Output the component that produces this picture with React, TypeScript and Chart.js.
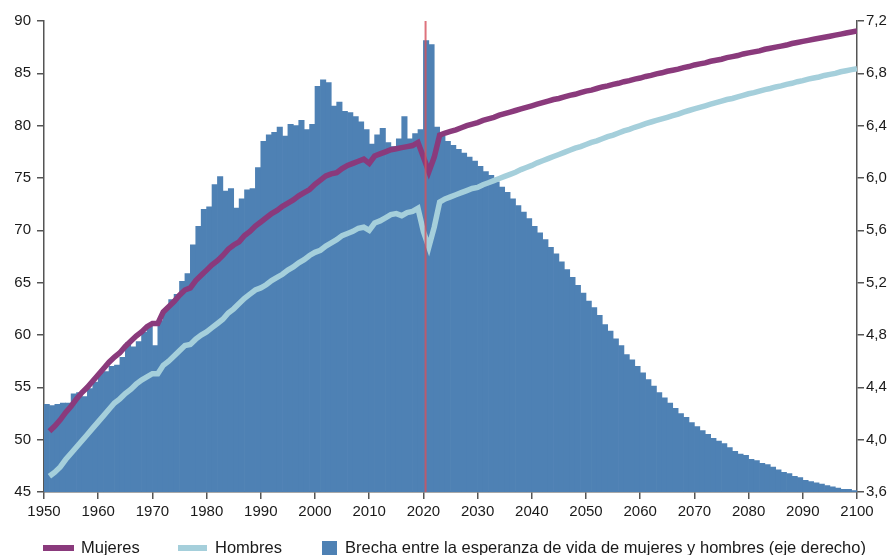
import React, { useEffect, useRef } from 'react';
import { Chart, registerables } from 'chart.js';

Chart.register(...registerables);

// ---------- data ----------
const FIRST_BAR_YEAR = 1950;
const FIRST_LINE_YEAR = 1951;
const X_TICKS = [1950, 1960, 1970, 1980, 1990, 2000, 2010, 2020, 2030, 2040, 2050, 2060, 2070, 2080, 2090, 2100];
const LEFT_TICKS = [45, 50, 55, 60, 65, 70, 75, 80, 85, 90];
const RIGHT_TICKS = [3.6, 4.0, 4.4, 4.8, 5.2, 5.6, 6.0, 6.4, 6.8, 7.2];
const PROJECTION_START = 2020.4;

const LABEL_MUJERES = 'Mujeres';
const LABEL_HOMBRES = 'Hombres';
const LABEL_BRECHA = 'Brecha entre la esperanza de vida de mujeres y hombres (eje derecho)';

// Gap (right axis), one bar per year 1950..2099
const brecha = [
  4.27, 4.26, 4.27, 4.28, 4.28, 4.35, 4.36, 4.33, 4.39, 4.44,
  4.51, 4.52, 4.56, 4.57, 4.63, 4.74, 4.71, 4.75, 4.82, 4.88,
  4.72, 4.91, 4.99, 5.07, 5.11, 5.21, 5.27, 5.49, 5.63, 5.76,
  5.78, 5.95, 6.01, 5.90, 5.92, 5.77, 5.84, 5.91, 5.92, 6.08,
  6.28, 6.33, 6.35, 6.39, 6.32, 6.41, 6.40, 6.44, 6.37, 6.41,
  6.70, 6.75, 6.73, 6.55, 6.58, 6.51, 6.50, 6.47, 6.43, 6.37,
  6.26, 6.33, 6.38, 6.27, 6.24, 6.30, 6.47, 6.30, 6.34, 6.37,
  7.05, 7.02, 6.39, 6.32, 6.28, 6.25, 6.22, 6.19, 6.16, 6.13,
  6.09, 6.05, 6.02, 5.97, 5.93, 5.89, 5.84, 5.79, 5.74, 5.69,
  5.63, 5.58, 5.53, 5.47, 5.42, 5.36, 5.30, 5.24, 5.18, 5.12,
  5.06, 5.01, 4.95, 4.88, 4.83, 4.77, 4.72, 4.65, 4.61, 4.56,
  4.51, 4.46, 4.41, 4.36, 4.32, 4.28, 4.24, 4.20, 4.17, 4.13,
  4.10, 4.07, 4.04, 4.01, 3.99, 3.97, 3.94, 3.91, 3.89, 3.88,
  3.85, 3.84, 3.82, 3.81, 3.79, 3.77, 3.75, 3.74, 3.72, 3.71,
  3.69, 3.68, 3.67, 3.66, 3.65, 3.64, 3.63, 3.62, 3.62, 3.61,
];

// Life expectancy women (left axis), 1951..2100
const mujeres = [
  50.8, 51.3, 51.9, 52.6, 53.2, 53.9, 54.5, 55.0, 55.6, 56.2,
  56.8, 57.4, 57.9, 58.3, 58.9, 59.4, 59.9, 60.3, 60.8, 61.1,
  61.1, 62.2, 62.7, 63.2, 63.8, 64.3, 64.5, 65.2, 65.7, 66.2,
  66.7, 67.1, 67.6, 68.2, 68.6, 68.9, 69.5, 69.9, 70.4, 70.8,
  71.2, 71.6, 71.9, 72.3, 72.6, 72.9, 73.3, 73.6, 73.9, 74.4,
  74.8, 75.2, 75.4, 75.5, 75.9, 76.2, 76.4, 76.6, 76.8, 76.4,
  77.1, 77.3, 77.5, 77.7, 77.8, 77.9, 78.0, 78.1, 78.4, 77.0,
  75.6, 77.0, 79.1, 79.3, 79.45, 79.6, 79.8, 80.0, 80.15, 80.3,
  80.5, 80.65, 80.8, 81.0, 81.15, 81.3, 81.45, 81.6, 81.75, 81.9,
  82.05, 82.2, 82.35, 82.5, 82.6, 82.75, 82.9, 83.0, 83.15, 83.3,
  83.4, 83.55, 83.7, 83.8, 83.95, 84.05, 84.2, 84.3, 84.45, 84.55,
  84.7, 84.8, 84.95, 85.05, 85.2, 85.3, 85.4, 85.55, 85.65, 85.8,
  85.9, 86.0, 86.15, 86.25, 86.35, 86.5, 86.6, 86.7, 86.85, 86.95,
  87.05, 87.15, 87.3, 87.4, 87.5, 87.6, 87.7, 87.85, 87.95, 88.05,
  88.15, 88.25, 88.35, 88.45, 88.55, 88.65, 88.75, 88.85, 88.95, 89.05,
];

// Life expectancy men (left axis), 1951..2100
const hombres = [
  46.5, 46.9, 47.4, 48.1, 48.7, 49.3, 49.9, 50.5, 51.1, 51.7,
  52.3, 52.9, 53.5, 53.9, 54.4, 54.8, 55.3, 55.7, 56.0, 56.3,
  56.3, 57.1, 57.5, 58.0, 58.5, 59.0, 59.1, 59.6, 60.0, 60.3,
  60.7, 61.1, 61.5, 62.1, 62.5, 63.0, 63.5, 63.9, 64.3, 64.5,
  64.8, 65.2, 65.5, 65.8, 66.2, 66.5, 66.9, 67.2, 67.6, 67.9,
  68.1, 68.5, 68.8, 69.1, 69.5, 69.7, 69.9, 70.2, 70.3, 70.0,
  70.7, 70.9, 71.2, 71.5, 71.6, 71.4, 71.7, 71.8, 72.1, 69.9,
  68.4, 70.3, 72.7, 73.0, 73.2, 73.4, 73.6, 73.8, 74.0, 74.1,
  74.35, 74.55, 74.75, 74.95, 75.15, 75.35, 75.55, 75.8, 76.0, 76.2,
  76.45, 76.65, 76.85, 77.05, 77.25, 77.45, 77.65, 77.85, 78.0, 78.2,
  78.4, 78.55, 78.75, 78.95, 79.1, 79.3, 79.5, 79.65, 79.85, 80.0,
  80.2, 80.35, 80.5, 80.65, 80.8, 80.95, 81.1, 81.3, 81.45, 81.6,
  81.75, 81.9, 82.05, 82.2, 82.35, 82.5, 82.6, 82.75, 82.9, 83.05,
  83.15, 83.3, 83.45, 83.55, 83.7, 83.8, 83.95, 84.05, 84.2, 84.3,
  84.45, 84.55, 84.65, 84.8, 84.9, 85.0, 85.15, 85.25, 85.35, 85.45,
];

// ---------- styles ----------
const C_MUJ = '#8a3a7c';
const C_HOM = '#a5cfdb';
const C_BAR = '#4e81b4';
const C_RED = 'rgba(214, 80, 92, 0.8)';
const C_AXIS = '#555555';
const C_TEXT = '#1a1a1a';
const FONT_FAMILY = '"Liberation Sans", Arial, Helvetica, sans-serif';
const FONT = { family: FONT_FAMILY, size: 15 };

const projectionLine = {
  id: 'projectionLine',
  afterDatasetsDraw(chart: any) {
    const { ctx, chartArea, scales } = chart;
    const x = scales.x.getPixelForValue(PROJECTION_START);
    ctx.save();
    ctx.strokeStyle = C_RED;
    ctx.lineWidth = 2;
    ctx.beginPath();
    ctx.moveTo(x, chartArea.top);
    ctx.lineTo(x, chartArea.bottom);
    ctx.stroke();
    ctx.restore();
  },
};

const customLegend = {
  id: 'customLegend',
  afterDraw(chart: any) {
    const { ctx } = chart;
    const cy = 548;
    ctx.save();
    ctx.font = `16.5px ${FONT_FAMILY}`;
    ctx.textBaseline = 'middle';
    ctx.textAlign = 'left';
    // Mujeres
    ctx.strokeStyle = C_MUJ;
    ctx.lineWidth = 6;
    ctx.beginPath();
    ctx.moveTo(43, cy);
    ctx.lineTo(74, cy);
    ctx.stroke();
    ctx.fillStyle = C_TEXT;
    ctx.fillText(LABEL_MUJERES, 81, cy);
    // Hombres
    ctx.strokeStyle = C_HOM;
    ctx.beginPath();
    ctx.moveTo(178, cy);
    ctx.lineTo(207, cy);
    ctx.stroke();
    ctx.fillText(LABEL_HOMBRES, 215, cy);
    // Brecha
    ctx.fillStyle = C_BAR;
    ctx.fillRect(322, 541, 15, 15);
    ctx.fillStyle = C_TEXT;
    ctx.fillText(LABEL_BRECHA, 345, cy);
    ctx.restore();
  },
};

export default function App() {
  const ref = useRef<HTMLCanvasElement | null>(null);

  useEffect(() => {
    if (!ref.current) return;
    const barData = brecha.map((v, i) => ({ x: FIRST_BAR_YEAR + i + 0.5, y: v }));
    const mujData = mujeres.map((v, i) => ({ x: FIRST_LINE_YEAR + i, y: v }));
    const homData = hombres.map((v, i) => ({ x: FIRST_LINE_YEAR + i, y: v }));

    const axisGrid = {
      display: true,
      drawOnChartArea: false,
      drawTicks: true,
      tickLength: 7,
      color: C_AXIS,
      lineWidth: 1.5,
      offset: false,
    };
    const axisBorder = { display: true, color: C_AXIS, width: 1.5 };

    const chart = new Chart(ref.current, {
      type: 'line',
      data: {
        datasets: [
          {
            type: 'line',
            label: LABEL_MUJERES,
            data: mujData,
            yAxisID: 'y',
            borderColor: C_MUJ,
            borderWidth: 5.5,
            pointRadius: 0,
            tension: 0,
            fill: false,
          },
          {
            type: 'line',
            label: LABEL_HOMBRES,
            data: homData,
            yAxisID: 'y',
            borderColor: C_HOM,
            borderWidth: 5.5,
            pointRadius: 0,
            tension: 0,
            fill: false,
          },
          {
            type: 'bar',
            label: LABEL_BRECHA,
            data: barData,
            yAxisID: 'y1',
            backgroundColor: C_BAR,
            borderWidth: 0,
            barPercentage: 1,
            categoryPercentage: 1,
          },
        ] as any,
      },
      options: {
        animation: false,
        responsive: false,
        devicePixelRatio: 1,
        layout: { padding: { top: 21, left: 0, right: 0, bottom: 0 } },
        plugins: { legend: { display: false }, tooltip: { enabled: false } },
        scales: {
          x: {
            type: 'linear',
            min: 1950,
            max: 2100,
            offset: false,
            afterBuildTicks: (s: any) => {
              s.ticks = X_TICKS.map((v) => ({ value: v }));
            },
            afterFit: (s: any) => {
              s.height = 63;
            },
            grid: axisGrid,
            border: axisBorder,
            ticks: {
              font: FONT,
              color: C_TEXT,
              padding: 4,
              maxRotation: 0,
              autoSkip: false,
              callback: (v: any) => String(v),
            },
          },
          y: {
            type: 'linear',
            position: 'left',
            min: 45,
            max: 90,
            afterBuildTicks: (s: any) => {
              s.ticks = LEFT_TICKS.map((v) => ({ value: v }));
            },
            afterFit: (s: any) => {
              s.width = 44;
            },
            grid: axisGrid,
            border: axisBorder,
            ticks: {
              font: FONT,
              color: C_TEXT,
              padding: 6,
              autoSkip: false,
              callback: (v: any) => String(v),
            },
          },
          y1: {
            type: 'linear',
            position: 'right',
            min: 3.6,
            max: 7.2,
            afterBuildTicks: (s: any) => {
              s.ticks = RIGHT_TICKS.map((v) => ({ value: v }));
            },
            afterFit: (s: any) => {
              s.width = 33;
            },
            grid: axisGrid,
            border: axisBorder,
            ticks: {
              font: FONT,
              color: C_TEXT,
              padding: 2,
              autoSkip: false,
              callback: (v: any) => Number(v).toFixed(1).replace('.', ','),
            },
          },
        },
      } as any,
      plugins: [projectionLine, customLegend],
    });
    return () => chart.destroy();
  }, []);

  return (
    <div style={{ position: 'absolute', left: 0, top: 0, width: 890, height: 555, background: '#fff' }}>
      <canvas ref={ref} width={890} height={555} style={{ width: 890, height: 555, display: 'block' }} />
    </div>
  );
}
